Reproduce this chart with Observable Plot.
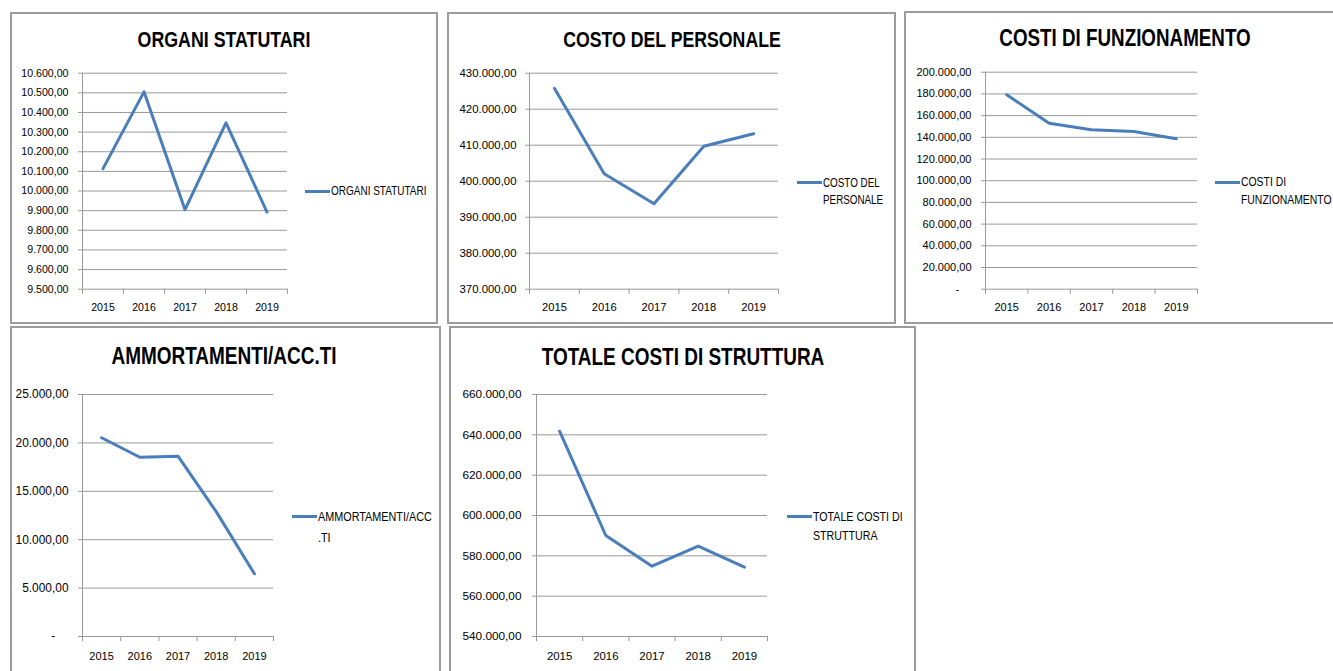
<!DOCTYPE html>
<html><head><meta charset="utf-8">
<script src="https://cdn.jsdelivr.net/npm/d3@7"></script>
<script src="https://cdn.jsdelivr.net/npm/@observablehq/plot@0.6"></script>
<style>
body{margin:0;background:#fff;width:1333px;height:671px;overflow:hidden;position:relative;font-family:"Liberation Sans",Arial,sans-serif;color:#000}
.panel{position:absolute;box-sizing:border-box;border:2px solid #9c9c9c;background:#fff}
.title{position:absolute;transform:translate(-50%,-50%) scaleX(0.79);font-weight:bold;white-space:nowrap;line-height:28px}
.chart{position:absolute}
.chart svg{overflow:visible}
.leg{position:absolute;white-space:nowrap}
.leg .sw{position:absolute;height:3px;background:#4a7ebb}
.leg .tx{position:absolute;transform:scaleX(0.82);transform-origin:0 50%;line-height:16px}
</style></head><body>
<script>
// ---- data ----
const years = [2015, 2016, 2017, 2018, 2019];
const organiStatutari = [10114, 10505, 9905, 10347, 9893];
const costoPersonale = [425830, 402050, 393720, 409720, 413170];
const costiFunzionamento = [179200, 153000, 146900, 145350, 138600];
const ammortamenti = [20530, 18520, 18630, 12900, 6480];
const totaleCosti = [641810, 590090, 574870, 584780, 574370];

const ticksOrgani = [9500, 9600, 9700, 9800, 9900, 10000, 10100, 10200, 10300, 10400, 10500, 10600];
const ticksPersonale = [370000, 380000, 390000, 400000, 410000, 420000, 430000];
const ticksFunzionamento = [0, 20000, 40000, 60000, 80000, 100000, 120000, 140000, 160000, 180000, 200000];
const ticksAmmortamenti = [0, 5000, 10000, 15000, 20000, 25000];
const ticksTotale = [540000, 560000, 580000, 600000, 620000, 640000, 660000];

const titles = ["ORGANI STATUTARI", "COSTO DEL PERSONALE", "COSTI DI FUNZIONAMENTO", "AMMORTAMENTI/ACC.TI", "TOTALE COSTI DI STRUTTURA"];
const legendLines = [["ORGANI STATUTARI"], ["COSTO DEL", "PERSONALE"], ["COSTI DI", "FUNZIONAMENTO"], ["AMMORTAMENTI/ACC", ".TI"], ["TOTALE COSTI DI", "STRUTTURA"]];

// ---- style ----
const FONT = '"Liberation Sans",Arial,sans-serif';
const BLUE = "#4a7ebb";
const GRID = "#999999";
const it = d3.formatLocale({decimal: ",", thousands: ".", grouping: [3], currency: ["€", ""]});
const f2 = it.format(",.2f");
const fmt = d => d === 0 ? "-\u2007\u2007" : f2(d);

const panels = [
  {box: [10, 12, 438, 324], svg: [10, 12, 428, 312], m: [60.7, 151, 35.3, 72], padY: 10, padX: 14, fy: 10.6, fx: 10.6, ft: 22.5, fl: 12.2, title: [224, 40], leg: [305, 191, 17], values: organiStatutari, ticks: ticksOrgani},
  {box: [447, 12, 896, 324], svg: [447, 12, 449, 312], m: [60.7, 118, 35.3, 82], padY: 9, padX: 14, fy: 11.4, fx: 11.2, ft: 22.4, fl: 12, title: [672, 40], leg: [797, 182.7, 17.3], values: costoPersonale, ticks: ticksPersonale},
  {box: [904, 11, 1345, 324], svg: [904, 11, 429, 313], m: [60.7, 136, 35.3, 81], padY: 10, padX: 14, fy: 11, fx: 11, ft: 23.8, fl: 12.7, title: [1125, 38], leg: [1215, 182, 18], values: costiFunzionamento, ticks: ticksFunzionamento},
  {box: [10, 326, 441, 690], svg: [10, 326, 431, 345], m: [68, 168, 35, 72], padY: 10, padX: 15.5, fy: 11.9, fx: 11, ft: 24, fl: 13.2, title: [224, 356], leg: [292, 516.7, 21.6], values: ammortamenti, ticks: ticksAmmortamenti},
  {box: [449, 326, 916, 690], svg: [449, 326, 467, 345], m: [68, 149, 35, 87], padY: 11, padX: 15.5, fy: 11.8, fx: 11.4, ft: 24, fl: 13, title: [683, 357], leg: [787, 516.7, 19.3], values: totaleCosti, ticks: ticksTotale}
];

function el(tag, cls, css, parent) {
  const e = document.createElement(tag);
  if (cls) e.className = cls;
  Object.assign(e.style, css);
  (parent || document.body).appendChild(e);
  return e;
}

panels.forEach((p) => {
  const [x0b, y0b, x1b, y1b] = p.box;
  el("div", "panel", {left: x0b + "px", top: y0b + "px", width: (x1b - x0b) + "px", height: (y1b - y0b) + "px"});
});

panels.forEach((p, k) => {
  const data = years.map((year, i) => ({year, value: p.values[i]}));
  const xa = years[0] - 0.5, xb = years[years.length - 1] + 0.5;
  const bounds = [...years.map(y => y - 0.5), xb];
  const yMin = p.ticks[0], yMax = p.ticks[p.ticks.length - 1];
  const [sx, sy, sw, sh] = p.svg;
  const [mt, mr, mb, ml] = p.m;
  const svg = Plot.plot({
    width: sw, height: sh,
    marginTop: mt, marginRight: mr, marginBottom: mb, marginLeft: ml,
    style: {fontFamily: FONT, fontSize: "11px", color: "#000", background: "transparent"},
    x: {type: "linear", domain: [xa, xb], label: null},
    y: {domain: [yMin, yMax], label: null},
    marks: [
      Plot.gridY(p.ticks.slice(1), {stroke: GRID, strokeOpacity: 1}),
      Plot.ruleY([yMin], {stroke: GRID}),
      Plot.ruleX([xa], {stroke: GRID}),
      Plot.axisY(p.ticks, {tickSize: 4, tickPadding: p.padY, tickFormat: fmt, stroke: GRID, fill: "#000", fontSize: p.fy}),
      Plot.axisX(bounds, {tickSize: 5, tickFormat: () => "", stroke: GRID}),
      Plot.axisX(years, {tickSize: 0, tickPadding: p.padX, tickFormat: d => String(d), fill: "#000", fontSize: p.fx}),
      Plot.line(data, {x: "year", y: "value", stroke: BLUE, strokeWidth: 3})
    ]
  });
  const holder = el("div", "chart", {left: sx + "px", top: sy + "px", width: sw + "px", height: sh + "px"});
  holder.appendChild(svg);

  const t = el("div", "title", {left: p.title[0] + "px", top: p.title[1] + "px", fontSize: p.ft + "px"});
  t.textContent = titles[k];

  const [lx, ly, lh] = p.leg;
  const lg = el("div", "leg", {left: lx + "px", top: "0px", fontSize: p.fl + "px"});
  el("div", "sw", {left: "0px", top: (ly - 1.5) + "px", width: "25px"}, lg);
  legendLines[k].forEach((line, j) => {
    const tx = el("div", "tx", {left: "26px", top: (ly - 8 + j * lh) + "px"}, lg);
    tx.textContent = line;
  });
});
</script>
</body></html>
